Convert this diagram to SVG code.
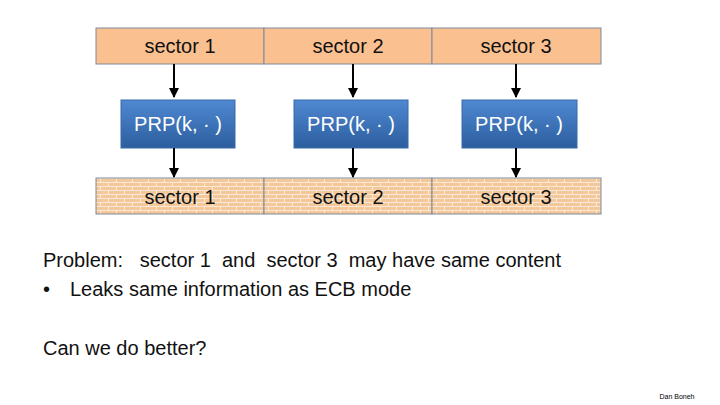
<svg xmlns="http://www.w3.org/2000/svg" width="720" height="405" viewBox="0 0 720 405">
<style>
.t{font-family:"Liberation Sans",Arial,sans-serif;font-size:20px;fill:#111}
.w{font-family:"Liberation Sans",Arial,sans-serif;font-size:20px;fill:#fff}
.cell{fill:#FAC090;stroke:#7F8A99;stroke-width:1}
.brick{fill:url(#brick);stroke:#7F8A99;stroke-width:1}
.prp{fill:url(#blue);stroke:#3A6AA8;stroke-width:1}
.arr{stroke:#000;stroke-width:2;fill:none;marker-end:url(#ah)}
</style>
<defs>
<linearGradient id="blue" x1="0" y1="0" x2="0" y2="1">
<stop offset="0" stop-color="#4F88D2"/>
<stop offset="1" stop-color="#2C5E9E"/>
</linearGradient>
<pattern id="brick" x="96" y="178" width="16" height="8" patternUnits="userSpaceOnUse">
<rect width="16" height="8" fill="#F3C99C"/>
<path d="M0 0.5H16M0 4.5H16M4.5 0V4M12.5 4V8" stroke="#FCE8D3" stroke-width="1"/>
</pattern>
<marker id="ah" viewBox="0 0 10 10" refX="9" refY="5" markerWidth="5" markerHeight="5" orient="auto" markerUnits="strokeWidth">
<path d="M0 0L10 5L0 10z" fill="#000"/>
</marker>
</defs>
<g id="top-row">
<g id="top1"><rect class="cell" x="96" y="28" width="168" height="36"/><text class="t" x="180" y="53" text-anchor="middle">sector 1</text></g>
<g id="top2"><rect class="cell" x="264" y="28" width="168" height="36"/><text class="t" x="348" y="53" text-anchor="middle">sector 2</text></g>
<g id="top3"><rect class="cell" x="432" y="28" width="169" height="36"/><text class="t" x="516" y="53" text-anchor="middle">sector 3</text></g>
</g>
<g id="prp-row">
<g id="prp1"><rect class="prp" x="121" y="100" width="114" height="48"/><text class="w" x="178" y="131" text-anchor="middle">PRP(k,  · )</text></g>
<g id="prp2"><rect class="prp" x="294" y="100" width="114" height="48"/><text class="w" x="351" y="131" text-anchor="middle">PRP(k,  · )</text></g>
<g id="prp3"><rect class="prp" x="462" y="100" width="115" height="48"/><text class="w" x="519" y="131" text-anchor="middle">PRP(k,  · )</text></g>
</g>
<g id="bottom-row">
<g id="bot1"><rect class="brick" x="96" y="178" width="168" height="36"/><text class="t" x="180" y="204" text-anchor="middle">sector 1</text></g>
<g id="bot2"><rect class="brick" x="264" y="178" width="168" height="36"/><text class="t" x="348" y="204" text-anchor="middle">sector 2</text></g>
<g id="bot3"><rect class="brick" x="432" y="178" width="169" height="36"/><text class="t" x="516" y="204" text-anchor="middle">sector 3</text></g>
</g>
<g id="connectors">
<line class="arr" x1="174" y1="64" x2="174" y2="97"/>
<line class="arr" x1="353" y1="64" x2="353" y2="97"/>
<line class="arr" x1="516" y1="64" x2="516" y2="97"/>
<line class="arr" x1="174" y1="148" x2="174" y2="177"/>
<line class="arr" x1="353" y1="148" x2="353" y2="177"/>
<line class="arr" x1="516" y1="148" x2="516" y2="177"/>
</g>
<g id="notes">
<text class="t" x="43" y="267" xml:space="preserve">Problem:   sector 1  and  sector 3  may have same content</text>
<text class="t" x="43" y="296">•</text>
<text class="t" x="70" y="296">Leaks same information as ECB mode</text>
<text class="t" x="43" y="355">Can we do better?</text>
<text x="677" y="399" text-anchor="middle" style="font-family:'Liberation Sans',Arial,sans-serif;font-size:7px;fill:#000">Dan Boneh</text>
</g>
</svg>
